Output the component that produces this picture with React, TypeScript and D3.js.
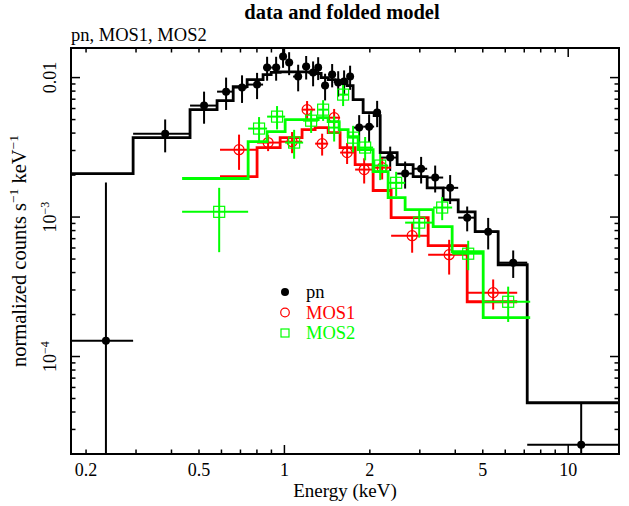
import React from 'react';
import * as d3 from 'd3';

// pn: bin edges (keV), point energies, rates, 1-sigma errors, folded model
const pnEdges = [0.178, 0.293, 0.465, 0.579, 0.660, 0.739, 0.841, 0.898, 0.966, 1.014, 1.073, 1.154, 1.222, 1.293, 1.347, 1.426, 1.509, 1.584, 1.663, 1.746, 1.894, 2.071, 2.175, 2.496, 2.842, 3.184, 3.626, 4.096, 4.700, 5.665, 7.171, 15.1];
const pnEnergy = [0.235, 0.380, 0.521, 0.623, 0.709, 0.801, 0.869, 0.935, 0.989, 1.039, 1.118, 1.193, 1.262, 1.315, 1.391, 1.473, 1.547, 1.623, 1.704, 1.834, 1.988, 2.122, 2.359, 2.663, 3.032, 3.398, 3.837, 4.406, 5.224, 6.400, 11.11];
const pnRate = [1.30e-4, 3.96e-3, 6.30e-3, 7.93e-3, 8.48e-3, 8.91e-3, 0.0118, 0.0118, 0.01415, 0.01281, 0.01017, 0.01199, 0.01086, 0.0118, 8.76e-3, 0.01051, 9.21e-3, 9.36e-3, 0.01017, 4.38e-3, 4.45e-3, 5.61e-3, 2.67e-3, 2.05e-3, 2.22e-3, 1.92e-3, 1.62e-3, 9.90e-4, 7.86e-4, 4.71e-4, 2.33e-5];
const pnErr = [1.64e-3, 1.05e-3, 1.63e-3, 2.07e-3, 1.9e-3, 1.9e-3, 2.3e-3, 2.3e-3, 2.4e-3, 2.4e-3, 2.2e-3, 2.3e-3, 2.2e-3, 2.2e-3, 1.9e-3, 2.0e-3, 1.9e-3, 1.9e-3, 2.0e-3, 1.0e-3, 1.0e-3, 1.2e-3, 5.3e-4, 4.5e-4, 4.8e-4, 4.2e-4, 3.8e-4, 2.0e-4, 2.0e-4, 1.05e-4, 2.3e-5];
const pnModel = [2.05e-3, 3.71e-3, 5.89e-3, 6.84e-3, 8.62e-3, 9.68e-3, 0.0105, 0.0109, 0.0110, 0.0110, 0.0110, 0.0110, 0.0109, 0.0107, 0.0100, 9.68e-3, 9.36e-3, 9.36e-3, 8.76e-3, 6.95e-3, 5.61e-3, 5.34e-3, 2.90e-3, 2.38e-3, 1.95e-3, 1.62e-3, 1.33e-3, 1.09e-3, 7.86e-4, 4.55e-4, 4.66e-5];

// MOS1
const mos1Edges = [0.593, 0.801, 0.966, 1.154, 1.283, 1.426, 1.571, 1.775, 2.054, 2.377, 3.210, 4.406, 6.611];
const mos1Energy = [0.692, 0.876, 1.064, 1.202, 1.358, 1.497, 1.663, 1.910, 2.210, 2.819, 3.806, 5.440];
const mos1Rate = [3.04e-3, 3.42e-3, 3.47e-3, 5.89e-3, 3.36e-3, 5.16e-3, 2.90e-3, 2.19e-3, 2.26e-3, 7.35e-4, 5.37e-4, 2.87e-4];
const mos1Err = [8.6e-4, 4.5e-4, 6e-4, 9e-4, 6e-4, 8e-4, 5e-4, 4.5e-4, 4e-4, 1.8e-4, 1.5e-4, 7e-5];
const mos1Model = [1.95e-3, 3.15e-3, 3.71e-3, 4.24e-3, 4.38e-3, 4.03e-3, 3.15e-3, 2.38e-3, 1.55e-3, 9.90e-4, 6.23e-4, 2.47e-4];

// MOS2
const mos2Edges = [0.436, 0.745, 0.869, 1.006, 1.164, 1.315, 1.426, 1.559, 1.677, 1.819, 2.054, 2.320, 2.663, 3.343, 3.900, 5.017, 7.345];
const mos2Energy = [0.589, 0.814, 0.942, 1.082, 1.242, 1.369, 1.497, 1.610, 1.746, 1.925, 2.175, 2.476, 2.985, 3.597, 4.442, 6.144];
const mos2Rate = [1.09e-3, 4.31e-3, 5.25e-3, 3.42e-3, 4.91e-3, 5.89e-3, 4.38e-3, 7.55e-3, 3.71e-3, 3.15e-3, 2.34e-3, 1.76e-3, 9.12e-4, 1.17e-3, 5.46e-4, 2.47e-4];
const mos2Err = [5.3e-4, 9e-4, 1.0e-3, 8e-4, 9e-4, 1.0e-3, 9e-4, 1.3e-3, 8e-4, 6e-4, 5e-4, 3.5e-4, 2.0e-4, 2.2e-4, 1.3e-4, 7e-5];
const mos2Model = [1.89e-3, 3.47e-3, 4.10e-3, 5.00e-3, 5.00e-3, 5.17e-3, 4.84e-3, 4.24e-3, 3.77e-3, 3.04e-3, 2.12e-3, 1.38e-3, 1.13e-3, 8.53e-4, 5.65e-4, 1.90e-4];

const xTickLabels = [0.2, 0.5, 1, 2, 5, 10];
const yTickLabels = [0.01, 1e-3, 1e-4];
const legendNames = ['pn', 'MOS1', 'MOS2'];

const W = 629;
const H = 506;
const margin = { top: 48, right: 10, bottom: 52, left: 71 };
const font = '"Liberation Serif", "Times New Roman", serif';

const x = d3.scaleLog().domain([0.177, 15.1]).range([margin.left, W - margin.right]);
const y = d3.scaleLog().domain([2e-5, 0.0163]).range([H - margin.bottom, margin.top]);

const stepLine = d3.line<[number, number]>()
  .x(d => x(d[0]))
  .y(d => y(d[1]))
  .curve(d3.curveStepAfter);

function stepPath(edges: number[], model: number[]) {
  const pts: [number, number][] = model.map((m, i) => [edges[i], m]);
  pts.push([edges[edges.length - 1], model[model.length - 1]]);
  return stepLine(pts) || '';
}

function logTicks(lo: number, hi: number) {
  const out: { v: number; major: boolean }[] = [];
  for (let e = Math.floor(Math.log10(lo)); e <= Math.ceil(Math.log10(hi)); e++) {
    for (let k = 1; k <= 9; k++) {
      const v = k * Math.pow(10, e);
      if (v >= lo && v <= hi) out.push({ v, major: k === 1 });
    }
  }
  return out;
}

const Series = ({ edges, energy, rate, err, model, color, marker }: any) => {
  const lowY = y.domain()[0] * 0.5;
  return (
    <g>
      {rate.map((r: number, i: number) => {
        const cx = x(energy[i]);
        const cy = y(r);
        return (
          <g key={i}>
            <line x1={x(edges[i])} x2={x(edges[i + 1])} y1={cy} y2={cy} stroke={color} strokeWidth={2} />
            <line x1={cx} x2={cx} y1={y(r + err[i])} y2={y(Math.max(r - err[i], lowY))} stroke={color} strokeWidth={2} />
            {marker === 'dot' && <circle cx={cx} cy={cy} r={4} fill={color} />}
            {marker === 'circle' && <circle cx={cx} cy={cy} r={5} fill="none" stroke={color} strokeWidth={1.2} />}
            {marker === 'square' && <rect x={cx - 5.5} y={cy - 5.5} width={11} height={11} fill="none" stroke={color} strokeWidth={1.2} />}
          </g>
        );
      })}
      <path d={stepPath(edges, model)} fill="none" stroke={color} strokeWidth={2.8} />
    </g>
  );
};

export default function App() {
  const [x0, x1] = x.range();
  const [y0, y1] = y.range();
  const xt = logTicks(x.domain()[0], x.domain()[1]);
  const yt = logTicks(y.domain()[0], y.domain()[1]);
  const legendColors = ['#000000', '#ff0000', '#00ff00'];
  const legendMarkers = ['dot', 'circle', 'square'];

  return (
    <svg width={W} height={H} style={{ position: 'absolute', left: 0, top: 0, background: '#fff' }} fontFamily={font}>
      <defs>
        <clipPath id="plot">
          <rect x={x0} y={y1} width={x1 - x0} height={y0 - y1} />
        </clipPath>
      </defs>

      <text x={342} y={19} textAnchor="middle" fontSize={20.5} fontWeight="bold">data and folded model</text>
      <text x={x0} y={41} fontSize={18.5}>pn, MOS1, MOS2</text>

      <g clipPath="url(#plot)">
        <Series edges={pnEdges} energy={pnEnergy} rate={pnRate} err={pnErr} model={pnModel} color="#000000" marker="dot" />
        <Series edges={mos1Edges} energy={mos1Energy} rate={mos1Rate} err={mos1Err} model={mos1Model} color="#ff0000" marker="circle" />
        <Series edges={mos2Edges} energy={mos2Energy} rate={mos2Rate} err={mos2Err} model={mos2Model} color="#00ff00" marker="square" />
      </g>

      {/* ticks */}
      {xt.map((t, i) => (
        <g key={'xt' + i} stroke="#000" strokeWidth={1.5}>
          <line x1={x(t.v)} x2={x(t.v)} y1={y0} y2={y0 - (t.major ? 9 : 4.5)} />
          <line x1={x(t.v)} x2={x(t.v)} y1={y1} y2={y1 + (t.major ? 9 : 4.5)} />
        </g>
      ))}
      {yt.map((t, i) => (
        <g key={'yt' + i} stroke="#000" strokeWidth={1.5}>
          <line x1={x0} x2={x0 + (t.major ? 9 : 4.5)} y1={y(t.v)} y2={y(t.v)} />
          <line x1={x1} x2={x1 - (t.major ? 9 : 4.5)} y1={y(t.v)} y2={y(t.v)} />
        </g>
      ))}
      <rect x={x0} y={y1} width={x1 - x0} height={y0 - y1} fill="none" stroke="#000" strokeWidth={2} />

      {xTickLabels.map(v => (
        <text key={'xl' + v} x={x(v)} y={476} textAnchor="middle" fontSize={18}>{v}</text>
      ))}
      {yTickLabels.map(v => {
        const exp = Math.round(Math.log10(v));
        return (
          <text key={'yl' + v} transform={`translate(56,${y(v)}) rotate(-90)`} textAnchor="middle" fontSize={18}>
            {v === 0.01 ? '0.01' : (
              <>
                <tspan>10</tspan>
                <tspan dy={-7} fontSize={12}>{'\u2212' + Math.abs(exp)}</tspan>
              </>
            )}
          </text>
        );
      })}

      <text x={(x0 + x1) / 2} y={497} textAnchor="middle" fontSize={19}>Energy (keV)</text>
      <text transform={`translate(26,${(y0 + y1) / 2}) rotate(-90)`} textAnchor="middle" fontSize={20.5}>
        <tspan>normalized counts s</tspan>
        <tspan dy={-8} fontSize={13.5}>{'\u22121'}</tspan>
        <tspan dy={8}> keV</tspan>
        <tspan dy={-8} fontSize={13.5}>{'\u22121'}</tspan>
      </text>

      {/* legend */}
      {legendNames.map((name, i) => {
        const ly = 292 + i * 20.5;
        const c = legendColors[i];
        return (
          <g key={name}>
            {legendMarkers[i] === 'dot' && <circle cx={285} cy={ly} r={4} fill={c} />}
            {legendMarkers[i] === 'circle' && <circle cx={285} cy={ly} r={4.3} fill="none" stroke={c} strokeWidth={1.2} />}
            {legendMarkers[i] === 'square' && <rect x={281} y={ly - 4} width={8} height={8} fill="none" stroke={c} strokeWidth={1.2} />}
            <text x={306} y={ly + 6} fontSize={18.5} fill={c}>{name}</text>
          </g>
        );
      })}
    </svg>
  );
}
